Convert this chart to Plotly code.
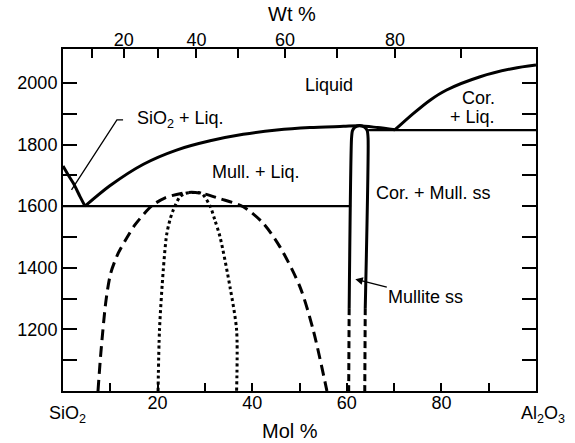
import plotly.graph_objects as go

# ---------------- data (mol % Al2O3, temperature °C) ----------------
sio2_liq_x = [0, 1.1, 2.2, 3.6, 4.65]
sio2_liq_t = [1730, 1701, 1674, 1631, 1600]

mull_liq_x = [4.65, 9.9, 17.0, 24.0, 31.1, 38.1, 45.2, 52.2, 59.3, 62.7, 66.5, 70.2]
mull_liq_t = [1600, 1666, 1736, 1782, 1812, 1833, 1847, 1855, 1859, 1861, 1855, 1848]

cor_liq_x = [70.2, 74.1, 77.6, 81.1, 88.2, 95.2, 100]
cor_liq_t = [1848, 1901, 1944, 1977, 2020, 2047, 2058]

eutectic_x = [0, 60.9]
eutectic_t = [1600, 1600]

peritectic_x = [64.5, 100]
peritectic_t = [1847, 1847]

mullite_solid_x = [60.5, 61.0, 61.2, 61.7, 62.7, 63.7, 64.3, 64.5, 63.9]
mullite_solid_t = [1269, 1820, 1845, 1856, 1862, 1857, 1846, 1820, 1269]

mullite_dash_left_x = [60.5, 60.4]
mullite_dash_left_t = [1269, 1000]
mullite_dash_right_x = [63.9, 63.8]
mullite_dash_right_t = [1269, 1000]

gap_x = [7.4, 8.0, 9.1, 10.1, 11.7, 13.6, 15.2, 18.7, 21.6, 25.0, 27.2, 29.5, 33.2, 38.1, 42.3, 45.9, 50.1, 52.9, 55.8]
gap_t = [1000, 1123, 1295, 1383, 1448, 1500, 1539, 1600, 1627, 1641, 1645, 1641, 1624, 1598, 1545, 1467, 1338, 1198, 1000]

spin_x = [20.1, 20.4, 21.2, 21.9, 22.6, 23.3, 24.7, 25.8, 27.3, 29.3, 31.1, 32.1, 33.2, 35.3, 36.7, 36.7]
spin_t = [1000, 1198, 1393, 1506, 1555, 1587, 1630, 1641, 1644, 1641, 1600, 1555, 1500, 1338, 1198, 1000]

leader_x = [12.7, 11.4, 1.8]
leader_t = [1880, 1880, 1653]

mol_major = [20, 40, 60, 80]
mol_minor = [10, 30, 50, 70, 90]
wt_major = [20, 40, 60, 80]
wt_minor = [10, 30, 50, 70, 90]
t_major = [1200, 1400, 1600, 1800, 2000]
t_minor = [1100, 1300, 1500, 1700, 1900]

M_AL2O3 = 101.96
M_SIO2 = 60.08


def wt_to_mol(w):
    a = w / M_AL2O3
    s = (100 - w) / M_SIO2
    return 100 * a / (a + s)


FONT = "Liberation Sans, Arial, sans-serif"
BLACK = "black"

fig = go.Figure()


def add_line(x, y, width=3, dash="solid", shape="spline", smoothing=0.8):
    line = dict(color=BLACK, width=width, dash=dash)
    if shape == "spline":
        line["shape"] = "spline"
        line["smoothing"] = smoothing
    fig.add_trace(go.Scatter(x=x, y=y, mode="lines", line=line,
                             hoverinfo="skip", showlegend=False))


add_line(sio2_liq_x, sio2_liq_t, width=3)
add_line(mull_liq_x, mull_liq_t, width=3)
add_line(cor_liq_x, cor_liq_t, width=3)
add_line(eutectic_x, eutectic_t, width=2.2, shape="linear")
add_line(peritectic_x, peritectic_t, width=2.2, shape="linear")
add_line(mullite_solid_x, mullite_solid_t, width=3, smoothing=0.6)
add_line(mullite_dash_left_x, mullite_dash_left_t, width=3, dash="7px,4px", shape="linear")
add_line(mullite_dash_right_x, mullite_dash_right_t, width=3, dash="7px,4px", shape="linear")
add_line(gap_x, gap_t, width=3, dash="11px,6px")
add_line(spin_x, spin_t, width=3, dash="3px,3px")
add_line(leader_x, leader_t, width=1.3, shape="linear")

# invisible trace on the top (wt %) axis so it renders
fig.add_trace(go.Scatter(x=[0, 100], y=[1000, 1000], xaxis="x2", mode="lines",
                         line=dict(width=0), hoverinfo="skip", showlegend=False))


def label(x, y, text, xanchor="center", size=18):
    fig.add_annotation(x=x, y=y, text=text, showarrow=False, xanchor=xanchor,
                       yanchor="middle", font=dict(family=FONT, size=size, color=BLACK))


label(56.2, 1993, "Liquid")
label(91.8, 1951, "Cor.", xanchor="right")
label(91.8, 1889, "+ Liq.", xanchor="right")
label(78.4, 1643, "Cor. + Mull. ss")
label(40.8, 1711, "Mull. + Liq.")
label(15.2, 1880, "SiO<sub>2</sub> + Liq.", xanchor="left")

fig.add_annotation(x=61.8, y=1363, ax=76.7, ay=1305, axref="x", ayref="y",
                   text="Mullite ss", showarrow=True, arrowhead=2, arrowsize=1,
                   arrowwidth=1.5, arrowcolor=BLACK, standoff=0,
                   font=dict(family=FONT, size=18, color=BLACK))

# axis end labels and titles
fig.add_annotation(x=0, y=0, xref="x", yref="paper", text="SiO<sub>2</sub>",
                   showarrow=False, xanchor="center", yanchor="top", yshift=-10, xshift=4,
                   font=dict(family=FONT, size=18, color=BLACK))
fig.add_annotation(x=100, y=0, xref="x", yref="paper", text="Al<sub>2</sub>O<sub>3</sub>",
                   showarrow=False, xanchor="center", yanchor="top", yshift=-10, xshift=7,
                   font=dict(family=FONT, size=18, color=BLACK))
fig.add_annotation(x=0.48, y=0, xref="paper", yref="paper", text="Mol %",
                   showarrow=False, xanchor="center", yanchor="top", yshift=-27,
                   font=dict(family=FONT, size=20, color=BLACK))
fig.add_annotation(x=0.485, y=1, xref="paper", yref="paper", text="Wt %",
                   showarrow=False, xanchor="center", yanchor="bottom", yshift=22,
                   font=dict(family=FONT, size=20, color=BLACK))

axis_common = dict(showgrid=False, zeroline=False, showline=True, linecolor=BLACK,
                   linewidth=2, ticks="inside", tickcolor=BLACK,
                   tickfont=dict(family=FONT, size=18, color=BLACK))

fig.update_layout(
    width=575, height=443,
    margin=dict(l=63, r=39, t=49, b=52),
    paper_bgcolor="white", plot_bgcolor="white",
    showlegend=False,
    xaxis=dict(range=[0, 100], tickmode="array", tickvals=mol_major,
               ticktext=[str(v) for v in mol_major],
               ticklen=8, tickwidth=1.5, mirror=False, ticklabelstandoff=-6,
               minor=dict(tickmode="array", tickvals=mol_minor, ticks="inside",
                          ticklen=8, tickwidth=1.5, tickcolor=BLACK, showgrid=False),
               **axis_common),
    xaxis2=dict(range=[0, 100], overlaying="x", side="top", tickmode="array",
                tickvals=[wt_to_mol(w) for w in wt_major],
                ticktext=[str(w) for w in wt_major],
                ticklen=9, tickwidth=1.5, ticklabelstandoff=-6,
                minor=dict(tickmode="array", tickvals=[wt_to_mol(w) for w in wt_minor],
                           ticks="inside", ticklen=9, tickwidth=1.5, tickcolor=BLACK,
                           showgrid=False),
                **axis_common),
    yaxis=dict(range=[1000, 2110], tickmode="array", tickvals=t_major,
               ticktext=[str(v) for v in t_major],
               ticklen=14, tickwidth=1.5, mirror="ticks",
               minor=dict(tickmode="array", tickvals=t_minor, ticks="inside",
                          ticklen=14, tickwidth=1.5, tickcolor=BLACK, showgrid=False),
               **axis_common),
)

fig.write_html("out.html")
